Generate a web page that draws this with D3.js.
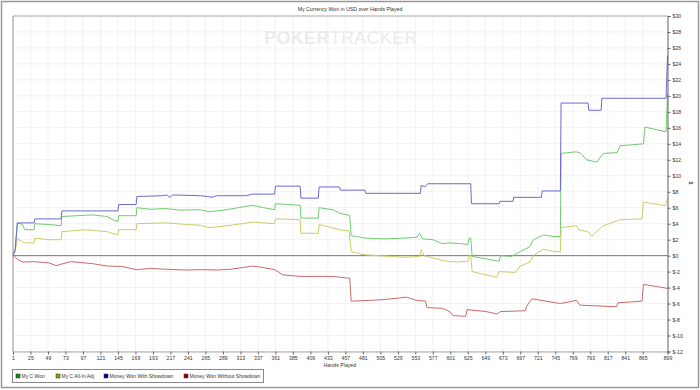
<!DOCTYPE html>
<html lang="en">
<head>
<meta charset="UTF-8">
<title>My Currency Won in USD over Hands Played</title>
<script src="https://d3js.org/d3.v7.min.js"></script>
<style>
    body { margin: 0; background: #fff; }
    svg { display: block; font-family: "Liberation Sans", Arial, sans-serif; }
</style>
</head>
<body>
<svg width="700" height="390"></svg>
<script>
    // [hand, dollars]
    const myCWon = [[1,0],[4,0.8],[7,4.1],[14,3.9],[17,3.25],[30,3.25],[31,4.0],[50,3.9],[67,3.75],[68,4.9],[90,5.0],[110,5.1],[130,4.9],[140,4.4],[145,4.3],[146,5.0],[170,5.0],[171,6.0],[190,5.8],[210,5.9],[230,5.7],[258,5.75],[270,5.5],[290,5.7],[310,6.0],[330,6.3],[345,6.0],[360,5.75],[361,6.5],[380,6.4],[395,6.3],[396,4.7],[420,4.7],[421,6.0],[440,5.75],[449,5.3],[460,5.1],[463,5.0],[465,2.5],[484,2.2],[510,2.1],[540,2.2],[555,2.3],[559,2.8],[563,2.1],[577,2.0],[590,1.5],[600,1.6],[615,1.5],[625,1.4],[627,2.2],[629,2.2],[631,-0.1],[650,-0.4],[668,-0.7],[670,0.0],[685,-0.1],[697,0.5],[710,1.1],[715,2.0],[729,2.6],[742,2.4],[752,2.4],[753,12.8],[774,13.0],[780,12.8],[788,12.0],[802,11.7],[811,12.8],[830,12.9],[834,13.75],[866,14.0],[868,16.1],[897,15.5],[899,20.25]];
    const myCAllIn = [[1,0],[4,0.5],[7,2.1],[17,1.6],[30,1.6],[31,2.2],[50,2.0],[67,2.0],[68,3.0],[100,3.25],[130,3.0],[145,2.6],[146,3.25],[170,3.25],[171,4.0],[210,4.1],[240,3.9],[258,3.8],[270,3.5],[300,3.8],[330,4.2],[360,4.0],[361,4.6],[395,4.5],[396,2.8],[420,2.8],[421,3.9],[449,3.25],[462,3.1],[465,0.5],[484,0.1],[520,-0.1],[540,-0.2],[559,-0.1],[561,0.75],[565,0.0],[577,-0.3],[596,-0.7],[610,-0.8],[625,-0.7],[627,0.0],[629,0.0],[631,-2.0],[650,-2.4],[665,-2.7],[668,-2.0],[690,-2.1],[697,-1.3],[710,-0.8],[715,0.0],[728,0.8],[745,0.5],[752,0.5],[753,3.5],[774,3.75],[778,3.2],[790,3.0],[795,2.4],[810,3.7],[834,4.5],[864,4.6],[866,6.7],[896,6.25],[899,7.2]];
    const withShowdown = [[1,0],[4,0.8],[7,4.1],[30,4.1],[31,4.6],[67,4.6],[68,5.6],[145,5.6],[146,6.4],[170,6.4],[171,7.4],[205,7.5],[212,7.6],[216,7.3],[220,7.6],[258,7.5],[268,7.4],[274,7.3],[280,7.5],[320,7.5],[330,7.7],[360,7.7],[361,8.7],[395,8.7],[396,7.2],[420,7.2],[421,8.6],[449,8.6],[450,8.2],[484,8.2],[485,7.8],[560,7.8],[561,8.8],[566,8.6],[570,9.0],[629,9.0],[630,6.5],[668,6.5],[669,6.8],[687,6.8],[688,7.3],[726,7.3],[727,8.1],[752,8.1],[753,19.1],[790,19.1],[791,18.2],[808,18.2],[809,19.7],[897,19.7],[899,25.0]];
    const withoutShowdown = [[1,0],[8,-0.5],[14,-0.8],[30,-0.75],[50,-0.9],[60,-1.25],[80,-0.75],[110,-1.0],[130,-1.3],[150,-1.35],[170,-1.75],[190,-1.6],[210,-1.7],[238,-1.8],[258,-1.75],[280,-1.8],[300,-1.7],[330,-1.3],[345,-1.5],[360,-1.75],[371,-2.4],[395,-2.6],[440,-2.6],[459,-2.8],[463,-2.8],[465,-5.7],[490,-5.6],[510,-5.5],[541,-5.2],[555,-5.6],[567,-5.7],[569,-6.5],[590,-6.6],[600,-7.0],[605,-7.5],[622,-7.6],[624,-6.75],[650,-7.0],[665,-7.3],[670,-7.0],[704,-6.9],[706,-6.3],[713,-5.4],[745,-5.9],[752,-6.0],[774,-5.6],[779,-6.2],[805,-6.3],[829,-6.4],[831,-5.9],[864,-5.7],[866,-3.6],[899,-4.1]];

    const seriesNames = ["My C Won", "My C All-In Adj", "Money Won With Showdown", "Money Won Without Showdown"];
    const seriesData = [myCWon, myCAllIn, withShowdown, withoutShowdown];
    const lineColors = ["#70cc70", "#cccc6a", "#6a6acc", "#cc6a6a"];
    const keyColors = ["#009900", "#999900", "#000099", "#990000"];

    const xTicks = d3.range(1, 866, 24).concat([899]);
    const yTicks = d3.range(-12, 31, 2);

    const svg = d3.select("svg");
    const plotL = 13, plotR = 667.5, plotT = 16, plotB = 351.5;
    const fs = 5.2;

    const x = d3.scaleLinear().domain([1, 899]).range([plotL, plotR]);
    const y = d3.scaleLinear().domain([-12, 30]).range([plotB, plotT]);

    // outer frame
    svg.append("rect")
        .attr("x", 1.5).attr("y", 1.5)
        .attr("width", 697).attr("height", 386)
        .attr("fill", "none").attr("stroke", "#999").attr("stroke-width", 1.5);

    svg.append("text")
        .attr("x", 350).attr("y", 11)
        .attr("text-anchor", "middle")
        .attr("font-size", fs).attr("fill", "#333")
        .text("My Currency Won in USD over Hands Played");

    // grid
    svg.append("g").selectAll("line").data(xTicks).join("line")
        .attr("x1", d => x(d)).attr("x2", d => x(d))
        .attr("y1", plotT).attr("y2", plotB)
        .attr("stroke", "#f2f2f2");
    svg.append("g").selectAll("line").data(yTicks).join("line")
        .attr("x1", plotL).attr("x2", plotR)
        .attr("y1", d => y(d)).attr("y2", d => y(d))
        .attr("stroke", "#f2f2f2");

    // watermark
    const wm = svg.append("text")
        .attr("x", 341).attr("y", 44)
        .attr("text-anchor", "middle")
        .attr("font-size", 18).attr("fill", "#ebebeb")
        .attr("letter-spacing", 0.3);
    wm.append("tspan").attr("font-weight", "bold").text("POKER");
    wm.append("tspan").text("TRACKER");

    // frame lines of plot
    svg.append("line").attr("x1", plotL).attr("x2", plotR).attr("y1", plotT).attr("y2", plotT)
        .attr("stroke", "#aaa");
    svg.append("line").attr("x1", plotL).attr("x2", plotL).attr("y1", plotT).attr("y2", plotB)
        .attr("stroke", "#999");

    // zero line
    svg.append("line")
        .attr("x1", plotL).attr("x2", plotR)
        .attr("y1", y(0)).attr("y2", y(0))
        .attr("stroke", "#777");

    const line = d3.line().x(d => x(d[0])).y(d => y(d[1]));
    svg.append("g").selectAll("path").data(seriesData).join("path")
        .attr("d", line)
        .attr("fill", "none")
        .attr("stroke", (d, i) => lineColors[i])
        .attr("stroke-width", 1);

    // axes
    const xAxis = svg.append("g")
        .attr("transform", `translate(0,${plotB})`)
        .call(d3.axisBottom(x).tickValues(xTicks).tickSize(3).tickPadding(1.5));
    xAxis.select(".domain").attr("stroke", "#aaa");
    xAxis.selectAll(".tick line").attr("stroke", "#666");
    xAxis.selectAll("text").attr("font-size", fs).attr("fill", "#333")
        .attr("font-family", "Liberation Sans, Arial, sans-serif");

    const yAxis = svg.append("g")
        .attr("transform", `translate(${plotR},0)`)
        .call(d3.axisRight(y).tickValues(yTicks).tickSize(3).tickPadding(2)
            .tickFormat(d => "$" + d));
    yAxis.select(".domain").attr("stroke", "#666");
    yAxis.selectAll(".tick line").attr("stroke", "#666");
    yAxis.selectAll("text").attr("font-size", fs).attr("fill", "#333")
        .attr("font-family", "Liberation Sans, Arial, sans-serif");

    svg.append("text")
        .attr("transform", `translate(689,183) rotate(90)`)
        .attr("text-anchor", "middle")
        .attr("font-size", fs).attr("fill", "#333")
        .text("$");

    svg.append("text")
        .attr("x", 340).attr("y", 366.5)
        .attr("text-anchor", "middle")
        .attr("font-size", fs).attr("fill", "#333")
        .text("Hands Played");

    // legend
    svg.append("rect")
        .attr("x", 12.5).attr("y", 369.5)
        .attr("width", 251).attr("height", 13)
        .attr("fill", "#fff").attr("stroke", "#888");
    const keyX = [16, 56, 104, 184];
    const key = svg.append("g").selectAll("g").data(seriesNames).join("g")
        .attr("transform", (d, i) => `translate(${keyX[i]},374)`);
    key.append("rect")
        .attr("width", 4).attr("height", 4)
        .attr("fill", (d, i) => keyColors[i])
        .attr("stroke", "#333").attr("stroke-width", 0.5);
    key.append("text")
        .attr("x", 5.5).attr("y", 4)
        .attr("font-size", 5).attr("fill", "#333")
        .text(d => d);
</script>
</body>
</html>
